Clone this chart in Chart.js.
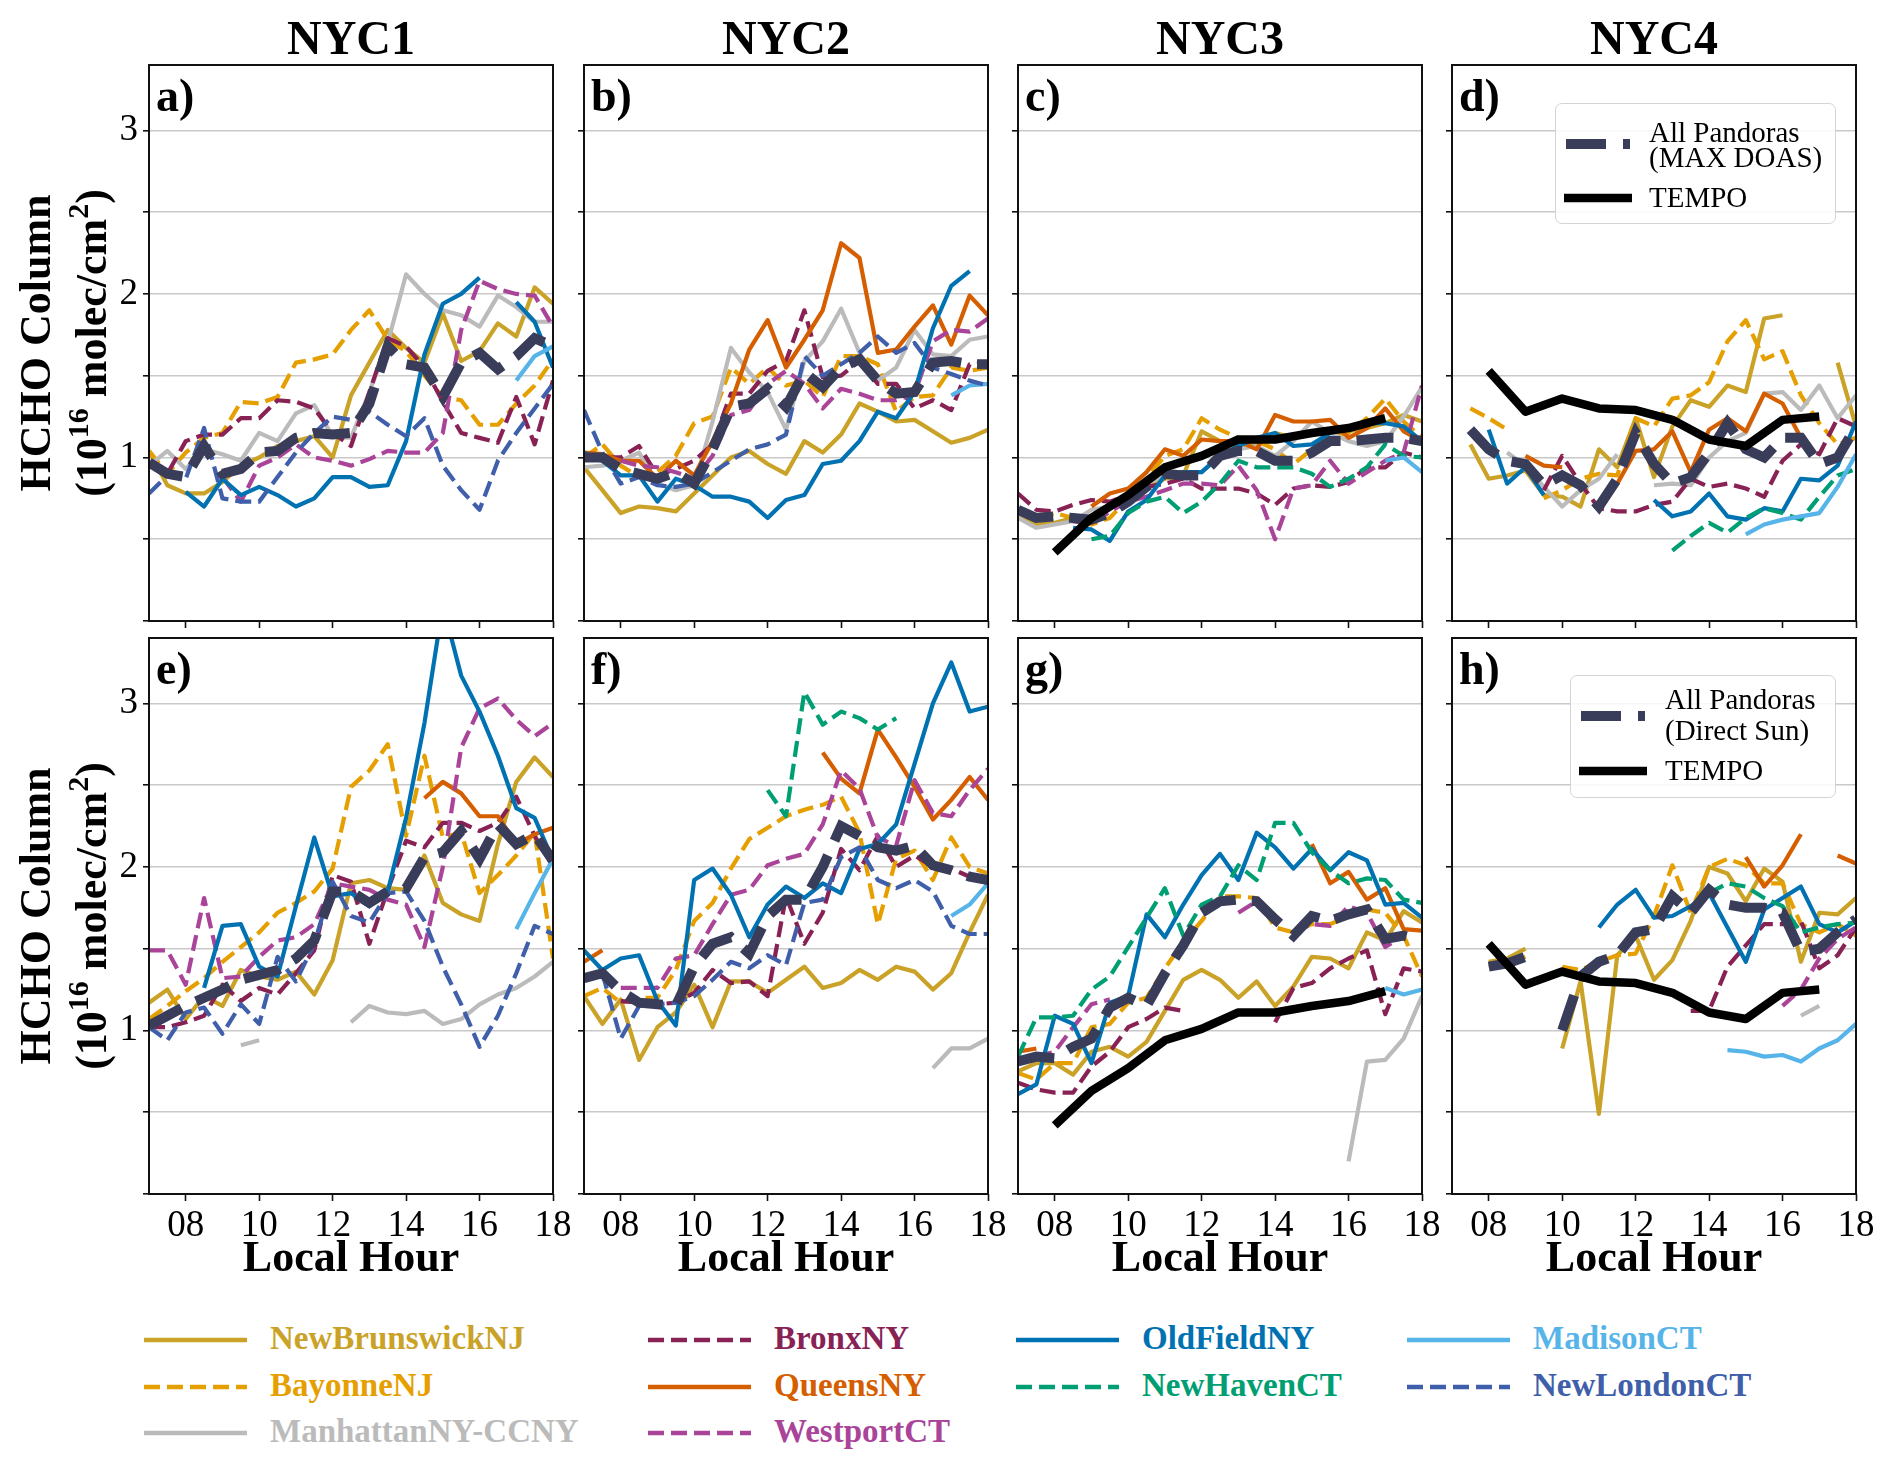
<!DOCTYPE html>
<html><head><meta charset="utf-8">
<script src="https://cdn.jsdelivr.net/npm/chart.js@4.4.1/dist/chart.umd.min.js"></script>
<style>
html,body{margin:0;padding:0;background:#fff;}
#root{position:relative;width:1892px;height:1466px;overflow:hidden;font-family:'Liberation Serif','Times New Roman',serif;color:#000;}
#root canvas{position:absolute;}
.coltitle{position:absolute;font-weight:bold;font-size:48px;line-height:48px;text-align:center;width:402px;}
.ylab{position:absolute;width:420px;height:112px;font-weight:bold;font-size:44px;line-height:56px;text-align:center;white-space:nowrap;transform:rotate(-90deg);}
.ylab sup{font-size:30px;line-height:0;position:relative;top:-2px;vertical-align:super;}
.xlab{position:absolute;width:402px;text-align:center;font-weight:bold;font-size:44px;line-height:44px;}
.plabel{position:absolute;font-weight:bold;font-size:46px;line-height:46px;}
.ileg{position:absolute;border:1.5px solid #d4d4d4;border-radius:7px;background:rgba(255,255,255,0.85);box-sizing:border-box;}
.ileg div{position:absolute;font-size:29px;line-height:29px;white-space:nowrap;}
.ileg svg{position:absolute;}
.bleg{position:absolute;font-weight:bold;font-size:33px;line-height:33px;white-space:nowrap;}
.blegs{position:absolute;}
</style>
</head><body>
<div id="root"></div>
<script>
// ---------- categories ----------
const HOURS = [7,7.5,8,8.5,9,9.5,10,10.5,11,11.5,12,12.5,13,13.5,14,14.5,15,15.5,16,16.5,17,17.5,18];
const TEMPO_HOURS = [8,9,10,11,12,13,14,15,16,17];
const X_TICKS = [8,10,12,14,16,18];
const Y_TICKS = [0,0.5,1,1.5,2,2.5,3];
const Y_LABELED = [1,2,3];
const COLUMN_TITLES = ['NYC1','NYC2','NYC3','NYC4'];
const PANEL_LETTERS = ['a)','b)','c)','d)','e)','f)','g)','h)'];
const SITES = ['NewBrunswickNJ','BayonneNJ','ManhattanNY-CCNY','BronxNY','QueensNY','WestportCT','OldFieldNY','NewHavenCT','MadisonCT','NewLondonCT'];
const _ = null;

// ---------- TEMPO ----------
const TEMPO_NYC3 = [0.42,0.63,0.77,0.94,1.01,1.11,1.11,1.15,1.18,1.24];
const TEMPO_NYC4 = [1.53,1.28,1.36,1.30,1.29,1.23,1.11,1.07,1.23,1.25];

// ---------- panel a (NYC1, MAX-DOAS) ----------
const a_All = [0.97,0.90,0.88,1.07,0.90,0.93,1.03,1.04,1.12,1.15,1.14,1.15,1.33,1.68,1.57,1.55,1.37,1.58,1.64,1.54,1.62,1.73,1.68];
const a_NewBrunswickNJ = [1.04,0.83,0.78,0.78,0.85,0.95,1.00,1.07,1.10,1.13,1.00,1.38,1.58,1.78,1.67,1.58,1.88,1.59,1.65,1.82,1.74,2.04,1.94];
const a_BayonneNJ = [1.04,0.90,1.03,1.12,1.15,1.34,1.33,1.37,1.58,1.60,1.63,1.78,1.90,1.72,1.65,1.50,1.37,1.35,1.20,1.20,1.33,1.44,1.60];
const a_ManhattanNY = [0.95,1.04,0.93,1.05,1.02,0.98,1.15,1.10,1.27,1.32,1.13,1.12,1.40,1.70,2.12,2.00,1.90,1.87,1.80,1.99,1.92,1.83,1.83];
const a_BronxNY = [0.95,0.90,1.10,1.14,1.14,1.24,1.24,1.35,1.34,1.30,1.15,1.07,1.40,1.73,1.68,1.55,1.34,1.15,1.12,1.09,1.37,1.08,1.47];
const a_WestportCT = [_,_,_,_,0.88,0.73,0.95,1.00,1.08,1.00,0.98,0.95,0.99,1.04,1.03,1.03,1.15,1.78,2.08,2.03,2.00,1.99,1.80];
const a_OldFieldNY = [_,_,0.79,0.70,0.87,0.77,0.82,0.77,0.70,0.75,0.88,0.88,0.82,0.83,1.10,1.63,1.94,2.00,2.10,_,1.95,1.83,1.55];
const a_MadisonCT = [_,_,_,_,_,_,_,_,_,_,_,_,_,_,_,_,_,_,_,_,1.47,1.62,1.68];
const a_NewLondonCT = [0.78,0.89,0.87,1.18,0.75,0.73,0.73,0.88,1.03,1.15,1.25,1.23,1.28,1.20,1.13,1.24,0.95,0.80,0.68,0.98,1.15,1.30,1.45];

// ---------- panel b (NYC2, MAX-DOAS) ----------
const b_All = [1.00,1.00,0.93,0.90,0.87,0.91,0.84,1.05,1.31,1.33,1.42,1.31,1.52,1.43,1.55,1.60,1.47,1.39,1.40,1.58,1.59,1.57,1.57];
const b_NewBrunswickNJ = [0.94,0.80,0.66,0.70,0.69,0.67,0.78,0.89,1.00,1.04,0.96,0.90,1.10,1.03,1.14,1.33,1.28,1.22,1.23,1.16,1.09,1.12,1.17];
const b_BayonneNJ = [1.00,1.08,0.95,0.88,0.91,1.01,1.21,1.25,1.55,1.45,1.55,1.44,1.47,1.37,1.62,1.62,1.57,1.28,1.37,1.38,1.55,1.53,1.55];
const b_ManhattanNY = [0.94,0.95,0.98,1.03,0.84,0.80,0.83,1.22,1.67,1.52,1.40,1.17,1.59,1.71,1.91,1.64,1.47,1.55,1.78,1.63,1.62,1.72,1.74];
const b_BronxNY = [1.00,1.00,1.00,1.07,0.89,0.93,0.98,1.08,1.39,1.39,1.53,1.59,1.90,1.49,1.50,1.59,1.45,1.45,1.30,1.35,1.29,1.57,1.58];
const b_QueensNY = [1.03,1.02,0.98,0.98,0.87,0.98,0.89,1.10,1.33,1.66,1.84,1.55,1.72,1.90,2.31,2.22,1.64,1.66,1.80,1.93,1.69,1.99,1.87];
const b_WestportCT = [_,_,0.98,0.95,0.94,0.91,0.87,1.01,1.26,1.29,1.45,1.53,1.45,1.30,1.42,1.39,1.35,1.35,1.39,1.71,1.78,1.77,1.85];
const b_OldFieldNY = [1.03,0.98,0.89,0.89,0.73,0.87,0.83,0.76,0.76,0.73,0.63,0.74,0.77,0.96,0.98,1.10,1.28,1.24,1.40,1.79,2.05,2.14,_];
const b_MadisonCT = [_,_,_,_,_,_,_,_,_,_,_,_,_,_,_,_,_,_,_,_,1.38,1.44,1.45];
const b_NewLondonCT = [1.29,1.03,0.84,0.88,0.83,0.82,0.84,0.91,0.98,1.05,1.08,1.14,1.62,1.50,1.57,1.64,1.74,1.64,1.70,1.55,1.51,1.47,1.44];

// ---------- panel c (NYC3, MAX-DOAS) ----------
const c_All = [0.68,0.63,0.64,0.63,0.62,0.66,0.73,0.82,0.90,0.89,0.89,1.01,1.04,1.04,0.98,0.98,1.03,1.10,1.10,1.11,1.12,1.12,1.10];
const c_NewBrunswickNJ = [0.66,0.59,0.60,0.63,0.61,0.69,0.75,0.81,0.87,0.89,1.16,1.10,1.07,1.08,1.15,1.12,1.16,1.15,1.16,1.18,1.21,1.26,1.22];
const c_BayonneNJ = [0.68,0.62,0.66,0.63,0.59,0.63,0.75,0.87,1.01,1.05,1.24,1.17,1.12,1.10,1.05,0.96,1.05,1.12,1.15,1.24,1.36,1.22,1.12];
const c_ManhattanNY = [0.63,0.57,0.59,0.61,0.68,0.70,0.75,0.84,0.89,0.91,0.91,1.01,1.05,1.07,1.01,1.10,1.22,1.15,1.10,1.07,1.10,1.25,1.43];
const c_BronxNY = [0.78,0.68,0.67,0.71,0.74,0.73,0.77,0.82,0.84,0.87,0.81,0.81,0.81,0.78,0.71,0.81,0.83,0.82,0.85,0.94,0.94,1.03,1.00];
const c_QueensNY = [_,_,_,_,0.70,0.78,0.81,0.91,1.05,1.01,1.11,1.10,1.10,1.05,1.26,1.22,1.22,1.23,1.12,1.18,1.30,1.16,1.10];
const c_WestportCT = [_,_,_,0.61,0.59,0.67,0.73,0.76,0.80,0.84,0.84,0.83,0.95,0.80,0.50,0.81,0.83,0.98,0.84,0.91,0.98,1.03,1.44];
const c_OldFieldNY = [_,_,_,0.57,0.56,0.49,0.67,0.74,0.89,0.91,0.91,1.01,1.07,1.12,1.15,1.07,1.08,1.15,1.18,1.21,1.21,1.19,1.10];
const c_NewHavenCT = [_,_,_,_,0.50,0.52,0.66,0.73,0.76,0.66,0.73,0.84,0.98,0.94,0.94,0.94,0.90,0.82,0.87,0.94,1.08,1.01,1.00];
const c_MadisonCT = [_,_,_,_,_,_,_,_,_,_,_,_,_,_,_,_,_,_,_,_,0.98,1.00,0.91];

// ---------- panel d (NYC4, MAX-DOAS) ----------
const d_All = [_,1.17,1.05,0.98,0.96,0.83,0.89,0.83,0.70,0.87,1.15,0.96,0.84,0.88,1.03,1.21,1.05,1.00,1.12,1.12,0.96,1.00,1.19];
const d_NewBrunswickNJ = [_,1.08,0.87,0.89,0.92,0.77,0.76,0.70,1.05,0.94,1.24,0.88,1.19,1.35,1.31,1.44,1.40,1.85,1.87,_,_,1.58,1.19];
const d_BayonneNJ = [_,1.30,1.24,1.17,_,0.75,0.80,0.87,0.90,0.89,1.24,1.19,1.36,1.38,1.46,1.71,1.84,1.60,1.65,1.38,1.21,1.08,1.12];
const d_ManhattanNY = [_,_,_,1.03,0.95,0.82,0.70,0.80,0.87,1.02,_,0.83,0.84,0.83,1.00,1.10,1.15,1.39,1.40,1.29,1.44,1.24,1.38];
const d_BronxNY = [_,_,_,_,_,0.80,1.01,0.84,0.69,0.67,0.67,0.71,0.73,0.87,0.82,0.84,0.81,0.76,0.98,1.08,1.02,1.24,1.19];
const d_QueensNY = [_,_,_,_,1.01,0.95,0.94,_,0.67,0.84,1.04,1.05,1.16,0.91,1.17,1.24,1.16,1.39,1.33,1.12,_,_,_];
const d_OldFieldNY = [_,_,1.17,0.84,0.94,0.77,_,_,_,_,_,0.74,0.64,0.67,0.78,0.64,0.62,0.69,0.67,0.87,0.86,0.95,1.22];
const d_NewHavenCT = [_,_,_,_,_,_,_,_,_,_,_,_,0.43,0.52,0.60,0.54,0.63,0.69,0.66,0.62,0.76,0.89,0.93];
const d_MadisonCT = [_,_,_,_,_,_,_,_,_,_,_,_,_,_,_,_,0.53,0.59,0.62,0.64,0.66,0.82,1.02];

// ---------- panel e (NYC1, Direct Sun) ----------
const e_All = [1.03,1.09,1.15,1.20,1.25,1.31,1.34,1.37,1.44,1.55,1.85,1.85,1.78,1.85,1.87,2.06,2.09,2.22,2.05,2.26,2.14,2.20,2.04];
const e_NewBrunswickNJ = [1.17,1.25,1.07,1.21,1.15,1.37,1.33,1.31,1.36,1.22,1.43,1.90,1.92,1.87,1.86,2.07,1.78,1.71,1.67,2.14,2.52,2.67,2.55];
const e_BayonneNJ = [1.07,1.15,1.24,1.32,1.42,1.51,1.60,1.72,1.78,1.85,1.99,2.49,2.59,2.75,2.19,2.68,2.18,2.21,1.84,1.95,2.07,2.21,1.44];
const e_ManhattanNY = [_,_,_,_,_,0.91,0.94,_,_,_,_,1.05,1.15,1.11,1.10,1.12,1.04,1.07,1.16,1.22,1.26,1.33,1.42];
const e_BronxNY = [1.02,1.02,1.05,1.09,1.28,1.18,1.26,1.22,1.35,1.49,1.95,1.91,1.53,1.86,2.16,2.12,2.27,2.27,2.22,2.27,2.43,2.19,2.00];
const e_QueensNY = [_,_,_,_,_,_,_,_,_,_,_,_,_,_,_,2.42,2.52,2.45,2.31,2.31,2.14,2.20,2.24];
const e_WestportCT = [1.49,1.49,1.28,1.81,1.32,1.33,1.45,1.55,1.57,1.65,1.90,1.88,1.86,1.80,1.77,1.51,2.00,2.73,2.97,3.03,2.90,2.80,2.88];
const e_OldFieldNY = [_,_,_,1.26,1.64,1.65,1.39,1.33,1.76,2.18,1.82,1.84,1.76,1.85,2.30,2.88,3.60,3.17,2.95,2.68,2.36,2.30,2.04];
const e_MadisonCT = [_,_,_,_,_,_,_,_,_,_,_,_,_,_,_,_,_,_,_,_,1.62,1.84,2.05];
const e_NewLondonCT = [1.02,0.94,1.11,1.14,0.98,1.16,1.04,1.45,1.30,1.53,1.91,1.70,1.66,1.84,1.85,1.67,1.39,1.16,0.90,1.09,1.35,1.64,1.59];

// ---------- panel f (NYC2, Direct Sun) ----------
const f_All = [1.32,1.35,1.24,1.17,1.16,1.15,1.39,1.53,1.57,1.47,1.70,1.80,1.80,2.00,2.25,2.19,2.12,2.10,2.13,2.01,1.98,1.94,1.92];
const f_NewBrunswickNJ = [1.21,1.04,1.19,0.82,1.02,1.11,1.28,1.02,1.30,1.30,1.23,1.31,1.39,1.26,1.29,1.37,1.31,1.39,1.36,1.25,1.35,1.60,1.83];
const f_BayonneNJ = [1.21,1.26,1.17,1.20,1.20,1.37,1.67,1.78,1.99,2.17,2.24,2.31,2.35,2.38,2.43,2.21,1.65,2.05,2.10,1.92,2.18,2.00,1.96];
const f_ManhattanNY = [_,_,_,_,_,_,_,_,_,_,_,_,_,_,_,_,_,_,_,0.77,0.89,0.89,0.95];
const f_BronxNY = [_,_,1.18,1.17,1.16,1.17,1.23,1.37,1.29,1.30,1.21,1.82,1.53,1.72,2.11,1.98,2.19,2.00,2.07,2.00,1.99,1.94,1.92];
const f_QueensNY = [1.42,1.49,_,_,_,_,_,_,_,_,_,_,_,2.70,2.54,2.45,2.84,2.67,2.49,2.29,2.41,2.55,2.41];
const f_WestportCT = [_,_,1.26,1.26,1.26,1.44,1.46,1.65,1.83,1.86,2.01,2.05,2.08,2.26,2.59,2.48,2.18,2.13,2.53,2.33,2.31,2.47,2.60];
const f_OldFieldNY = [1.49,1.37,1.44,1.46,1.18,1.03,1.92,1.99,1.83,1.57,1.77,1.88,1.81,1.90,1.84,2.11,2.14,2.26,2.63,3.00,3.25,2.95,2.98];
const f_NewHavenCT = [_,_,_,_,_,_,_,_,_,_,2.47,2.31,3.07,2.87,2.95,2.91,2.84,2.91,_,_,_,_,_];
const f_MadisonCT = [_,_,_,_,_,_,_,_,_,_,_,_,_,_,_,_,_,_,_,_,1.70,1.77,1.90];
const f_NewLondonCT = [_,1.35,0.95,1.15,1.16,1.17,1.21,1.31,1.42,1.38,1.46,1.40,1.78,1.80,2.06,2.12,1.92,1.87,1.92,1.85,1.64,1.59,1.59];

// ---------- panel g (NYC3, Direct Sun) ----------
const g_All = [0.81,0.84,0.83,0.90,0.95,1.14,1.20,1.15,1.35,1.52,1.72,1.79,1.80,1.79,1.68,1.58,1.70,1.67,1.71,1.74,1.56,1.58,1.55];
const g_NewBrunswickNJ = [0.75,0.80,0.80,0.73,0.87,0.90,0.84,0.93,1.12,1.31,1.37,1.31,1.20,1.30,1.15,1.27,1.45,1.44,1.38,1.60,1.55,1.73,1.66];
const g_BayonneNJ = [0.74,0.70,0.80,0.80,1.02,1.04,1.17,1.20,1.38,1.54,1.67,1.82,1.82,1.81,1.63,1.60,1.65,1.65,1.70,1.74,1.72,1.58,1.33];
const g_ManhattanNY = [_,_,_,_,_,_,_,_,_,_,_,_,_,_,_,_,_,_,0.20,0.81,0.82,0.95,1.21];
const g_BronxNY = [0.68,0.64,0.62,0.62,0.78,0.87,1.02,1.07,1.14,1.12,_,_,_,_,1.05,1.26,1.29,1.38,1.44,1.49,1.10,1.38,1.36];
const g_QueensNY = [0.87,0.89,_,_,_,_,_,_,_,_,_,_,_,_,_,_,2.14,1.90,1.97,1.80,1.87,1.62,1.61];
const g_WestportCT = [_,0.84,0.87,1.02,1.16,1.19,_,_,_,_,_,_,1.72,1.79,_,1.60,1.65,1.64,1.76,1.72,1.51,1.58,_];
const g_OldFieldNY = [0.61,0.67,1.09,1.04,0.80,1.17,1.21,1.71,1.57,1.77,1.95,2.08,1.92,2.21,2.12,1.99,2.11,1.98,2.09,2.04,1.77,1.78,1.69];
const g_NewHavenCT = [0.84,1.08,1.08,1.09,1.25,1.33,1.51,1.69,1.87,1.58,1.77,1.82,2.01,1.92,2.27,2.27,2.09,1.98,1.90,1.93,1.92,1.80,1.78];
const g_MadisonCT = [_,_,_,_,_,_,_,_,_,_,_,_,_,_,_,_,_,_,_,_,1.26,1.22,1.25];

// ---------- panel h (NYC4, Direct Sun) ----------
const h_All = [_,_,1.39,1.41,1.45,_,1.00,1.33,1.42,1.46,1.60,1.62,1.82,1.72,1.86,1.77,1.75,1.75,1.72,1.48,1.50,1.60,1.68];
const h_NewBrunswickNJ = [_,_,1.42,1.44,1.50,_,0.89,1.30,0.49,1.46,1.58,1.31,1.43,1.67,2.00,1.96,1.79,1.99,1.91,1.42,1.72,1.71,1.81];
const h_BayonneNJ = [_,_,1.39,1.41,1.45,_,1.39,1.37,1.42,1.46,1.47,1.70,2.01,1.72,2.00,2.05,2.01,1.90,1.90,1.65,1.60,1.65,1.58];
const h_BronxNY = [_,_,_,_,_,_,_,_,_,_,_,_,_,1.12,1.12,1.39,1.52,1.65,1.65,1.67,1.38,1.46,1.63];
const h_QueensNY = [_,_,_,_,_,_,_,_,_,_,_,_,_,_,_,_,2.06,1.88,2.01,2.20,_,2.07,2.02];
const h_WestportCT = [_,_,_,_,_,_,_,_,_,_,_,_,_,_,_,_,_,_,1.15,1.25,1.44,1.56,1.63];
const h_ManhattanNY = [_,_,_,_,_,_,_,_,_,_,_,_,_,_,_,_,_,_,_,1.09,1.15,_,1.23];
const h_OldFieldNY = [_,_,_,_,_,_,_,_,1.63,1.77,1.86,1.69,1.70,1.76,1.84,1.63,1.42,1.74,1.81,1.88,1.65,1.60,1.67];
const h_NewHavenCT = [_,_,_,_,_,_,_,_,_,_,_,_,_,_,1.84,1.90,1.88,1.81,1.76,1.60,1.63,1.65,1.66];
const h_MadisonCT = [_,_,_,_,_,_,_,_,_,_,_,_,_,_,_,0.88,0.87,0.84,0.85,0.81,0.89,0.94,1.04];

// ---------- styles ----------
const SITE_STYLE = {
  'NewBrunswickNJ':   {color:'#C9A227', dashed:false},
  'BayonneNJ':        {color:'#E69F00', dashed:true},
  'ManhattanNY-CCNY': {color:'#BBBBBB', dashed:false},
  'BronxNY':          {color:'#882255', dashed:true},
  'QueensNY':         {color:'#D55E00', dashed:false},
  'WestportCT':       {color:'#AA4499', dashed:true},
  'OldFieldNY':       {color:'#0072B2', dashed:false},
  'NewHavenCT':       {color:'#009E73', dashed:true},
  'MadisonCT':        {color:'#56B4E9', dashed:false},
  'NewLondonCT':      {color:'#3F5FAA', dashed:true}
};
const ALL_COLOR = '#393D5A';

const PANELS = [
  {row:0,col:0,all:a_All,tempo:null,sites:{'NewBrunswickNJ':a_NewBrunswickNJ,'BayonneNJ':a_BayonneNJ,'ManhattanNY-CCNY':a_ManhattanNY,'BronxNY':a_BronxNY,'WestportCT':a_WestportCT,'OldFieldNY':a_OldFieldNY,'MadisonCT':a_MadisonCT,'NewLondonCT':a_NewLondonCT}},
  {row:0,col:1,all:b_All,tempo:null,sites:{'NewBrunswickNJ':b_NewBrunswickNJ,'BayonneNJ':b_BayonneNJ,'ManhattanNY-CCNY':b_ManhattanNY,'BronxNY':b_BronxNY,'QueensNY':b_QueensNY,'WestportCT':b_WestportCT,'OldFieldNY':b_OldFieldNY,'MadisonCT':b_MadisonCT,'NewLondonCT':b_NewLondonCT}},
  {row:0,col:2,all:c_All,tempo:TEMPO_NYC3,sites:{'NewBrunswickNJ':c_NewBrunswickNJ,'BayonneNJ':c_BayonneNJ,'ManhattanNY-CCNY':c_ManhattanNY,'BronxNY':c_BronxNY,'QueensNY':c_QueensNY,'WestportCT':c_WestportCT,'OldFieldNY':c_OldFieldNY,'NewHavenCT':c_NewHavenCT,'MadisonCT':c_MadisonCT}},
  {row:0,col:3,all:d_All,tempo:TEMPO_NYC4,sites:{'NewBrunswickNJ':d_NewBrunswickNJ,'BayonneNJ':d_BayonneNJ,'ManhattanNY-CCNY':d_ManhattanNY,'BronxNY':d_BronxNY,'QueensNY':d_QueensNY,'OldFieldNY':d_OldFieldNY,'NewHavenCT':d_NewHavenCT,'MadisonCT':d_MadisonCT}},
  {row:1,col:0,all:e_All,tempo:null,sites:{'NewBrunswickNJ':e_NewBrunswickNJ,'BayonneNJ':e_BayonneNJ,'ManhattanNY-CCNY':e_ManhattanNY,'BronxNY':e_BronxNY,'QueensNY':e_QueensNY,'WestportCT':e_WestportCT,'OldFieldNY':e_OldFieldNY,'MadisonCT':e_MadisonCT,'NewLondonCT':e_NewLondonCT}},
  {row:1,col:1,all:f_All,tempo:null,sites:{'NewBrunswickNJ':f_NewBrunswickNJ,'BayonneNJ':f_BayonneNJ,'ManhattanNY-CCNY':f_ManhattanNY,'BronxNY':f_BronxNY,'QueensNY':f_QueensNY,'WestportCT':f_WestportCT,'OldFieldNY':f_OldFieldNY,'NewHavenCT':f_NewHavenCT,'MadisonCT':f_MadisonCT,'NewLondonCT':f_NewLondonCT}},
  {row:1,col:2,all:g_All,tempo:TEMPO_NYC3,sites:{'NewBrunswickNJ':g_NewBrunswickNJ,'BayonneNJ':g_BayonneNJ,'ManhattanNY-CCNY':g_ManhattanNY,'BronxNY':g_BronxNY,'QueensNY':g_QueensNY,'WestportCT':g_WestportCT,'OldFieldNY':g_OldFieldNY,'NewHavenCT':g_NewHavenCT,'MadisonCT':g_MadisonCT}},
  {row:1,col:3,all:h_All,tempo:TEMPO_NYC4,sites:{'NewBrunswickNJ':h_NewBrunswickNJ,'BayonneNJ':h_BayonneNJ,'ManhattanNY-CCNY':h_ManhattanNY,'BronxNY':h_BronxNY,'QueensNY':h_QueensNY,'WestportCT':h_WestportCT,'OldFieldNY':h_OldFieldNY,'NewHavenCT':h_NewHavenCT,'MadisonCT':h_MadisonCT}}
];

// ---------- layout ----------
const PW = 404, PH = 556;
const COL_LEFT = [149, 584, 1018, 1452];
const ROW_TOP = [65, 638];
const ML = 60, MT = 12, MR = 30, MB = 60;
const FONT = "'Liberation Serif','Times New Roman',serif";

Chart.defaults.font.family = FONT;
Chart.defaults.color = '#000';
Chart.defaults.animation = false;

const root = document.getElementById('root');

const framePlugin = {
  id: 'frame',
  afterDraw(chart) {
    const a = chart.chartArea, ctx = chart.ctx;
    ctx.save();
    ctx.strokeStyle = '#111';
    ctx.lineWidth = 2;
    ctx.strokeRect(a.left, a.top, a.right - a.left, a.bottom - a.top);
    ctx.restore();
  }
};

function pts(xs, ys) { return xs.map((x, i) => ({x: x, y: ys[i]})); }

PANELS.forEach((p, idx) => {
  const cv = document.createElement('canvas');
  const W = PW + ML + MR, H = PH + MT + MB;
  cv.width = W; cv.height = H;
  cv.style.width = W + 'px'; cv.style.height = H + 'px';
  cv.style.left = (COL_LEFT[p.col] - ML) + 'px';
  cv.style.top = (ROW_TOP[p.row] - MT) + 'px';
  root.appendChild(cv);

  const datasets = [];
  if (p.tempo) {
    datasets.push({label:'TEMPO', data:pts(TEMPO_HOURS, p.tempo), borderColor:'#000', borderWidth:8.5,
      pointRadius:0, tension:0, fill:false, order:-2, borderCapStyle:'butt', borderJoinStyle:'round'});
  }
  datasets.push({label:'All Pandoras', data:pts(HOURS, p.all), borderColor:ALL_COLOR, borderWidth:10,
    borderDash:[37,16], pointRadius:0, tension:0, fill:false, order:-1, spanGaps:false, borderCapStyle:'butt'});
  SITES.forEach((s, si) => {
    if (!p.sites[s]) return;
    const st = SITE_STYLE[s];
    datasets.push({label:s, data:pts(HOURS, p.sites[s]), borderColor:st.color, borderWidth:4.2,
      borderDash: st.dashed ? [16,7] : [], pointRadius:0, tension:0, fill:false,
      order: 20 - si, spanGaps:false, borderCapStyle:'butt', borderJoinStyle:'round'});
  });

  new Chart(cv, {
    type: 'line',
    data: {datasets: datasets},
    plugins: [framePlugin],
    options: {
      responsive: false,
      devicePixelRatio: 1,
      animation: false,
      spanGaps: false,
      layout: {padding: {top: MT, right: MR, left: 0, bottom: 0}},
      plugins: {legend: {display: false}, tooltip: {enabled: false}, title: {display: false}},
      scales: {
        x: {
          type: 'linear', min: 7, max: 18,
          afterBuildTicks: (sc) => { sc.ticks = X_TICKS.map(v => ({value: v})); },
          afterFit: (sc) => { sc.height = MB; sc.paddingLeft = 0; sc.paddingRight = 0; sc.paddingTop = 0; sc.paddingBottom = 0; },
          grid: {drawOnChartArea: false, drawTicks: true, tickLength: 7, tickColor: '#111', tickWidth: 1.6},
          border: {display: false},
          ticks: {
            font: {size: 37, family: FONT}, color: '#000', padding: 3, maxRotation: 0, autoSkip: false,
            callback: (v) => p.row === 1 ? (v < 10 ? '0' + v : '' + v) : ''
          }
        },
        y: {
          type: 'linear', min: 0, max: 3.4,
          afterBuildTicks: (sc) => { sc.ticks = Y_TICKS.map(v => ({value: v})); },
          afterFit: (sc) => { sc.width = ML; sc.paddingTop = 0; sc.paddingBottom = 0; sc.paddingLeft = 0; sc.paddingRight = 0; },
          grid: {color: '#c9c9c9', lineWidth: 1.6, drawTicks: true, tickLength: 6, tickColor: '#111', tickWidth: 1.6},
          border: {display: false},
          ticks: {
            font: {size: 37, family: FONT}, color: '#000', padding: 5, autoSkip: false,
            callback: (v) => (p.col === 0 && Y_LABELED.includes(v)) ? String(v) : ''
          }
        }
      }
    }
  });

  // panel letter
  const pl = document.createElement('div');
  pl.className = 'plabel';
  pl.textContent = PANEL_LETTERS[idx];
  pl.style.left = (COL_LEFT[p.col] + 7) + 'px';
  pl.style.top = (ROW_TOP[p.row] + 8) + 'px';
  root.appendChild(pl);
});

// column titles
COLUMN_TITLES.forEach((t, c) => {
  const d = document.createElement('div');
  d.className = 'coltitle';
  d.textContent = t;
  d.style.left = COL_LEFT[c] + 'px';
  d.style.width = PW + 'px';
  d.style.top = '14px';
  root.appendChild(d);
});

// y-axis titles
ROW_TOP.forEach((top) => {
  const d = document.createElement('div');
  d.className = 'ylab';
  d.innerHTML = 'HCHO Column<br>(10<sup>16</sup> molec/cm<sup>2</sup>)';
  const cy = top + PH / 2;
  d.style.left = (64 - 210) + 'px';
  d.style.top = (cy - 56) + 'px';
  root.appendChild(d);
});

// x-axis titles
COL_LEFT.forEach((l) => {
  const d = document.createElement('div');
  d.className = 'xlab';
  d.textContent = 'Local Hour';
  d.style.left = l + 'px';
  d.style.width = PW + 'px';
  d.style.top = '1235px';
  root.appendChild(d);
});

// inner legends (panels d and h)
function svgLine(w, h, color, width, dash) {
  return '<svg width="' + w + '" height="' + h + '"><line x1="0" y1="' + (h/2) + '" x2="' + w + '" y2="' + (h/2) +
    '" stroke="' + color + '" stroke-width="' + width + '"' + (dash ? ' stroke-dasharray="' + dash + '"' : '') + '/></svg>';
}
function innerLegend(panelLeft, panelTop, cfg) {
  const box = document.createElement('div');
  box.className = 'ileg';
  box.style.left = (panelLeft + cfg.left) + 'px';
  box.style.top = (panelTop + cfg.top) + 'px';
  box.style.width = cfg.w + 'px';
  box.style.height = cfg.h + 'px';
  let html = '';
  html += '<svg style="left:10px;top:' + (cfg.dashY - 7) + 'px" width="64" height="14"><line x1="0" y1="7" x2="64" y2="7" stroke="' + ALL_COLOR + '" stroke-width="10" stroke-dasharray="40 17"/></svg>';
  html += '<svg style="left:8px;top:' + (cfg.tempoY - 7) + 'px" width="68" height="14"><line x1="0" y1="7" x2="68" y2="7" stroke="#000" stroke-width="8.5"/></svg>';
  html += '<div style="left:' + cfg.textX + 'px;top:' + (cfg.l1 - 15) + 'px">All Pandoras</div>';
  html += '<div style="left:' + cfg.textX + 'px;top:' + (cfg.l2 - 15) + 'px">' + cfg.sub + '</div>';
  html += '<div style="left:' + cfg.textX + 'px;top:' + (cfg.tempoY - 15) + 'px">TEMPO</div>';
  box.innerHTML = html;
  root.appendChild(box);
}
innerLegend(COL_LEFT[3], ROW_TOP[0], {left:103, top:38, w:281, h:121, dashY:40, tempoY:94, l1:29, l2:54, textX:93, sub:'(MAX DOAS)'});
innerLegend(COL_LEFT[3], ROW_TOP[1], {left:118, top:37, w:266, h:123, dashY:40, tempoY:95, l1:24, l2:55, textX:94, sub:'(Direct Sun)'});

// bottom legend
const LEG_COLS_X = [144, 648, 1016, 1407];
const LEG_ROWS_Y = [1340, 1387, 1433];
const LEG_LAYOUT = [
  ['NewBrunswickNJ','BayonneNJ','ManhattanNY-CCNY'],
  ['BronxNY','QueensNY','WestportCT'],
  ['OldFieldNY','NewHavenCT'],
  ['MadisonCT','NewLondonCT']
];
LEG_LAYOUT.forEach((col, ci) => {
  col.forEach((s, ri) => {
    const st = SITE_STYLE[s];
    const y = LEG_ROWS_Y[ri];
    const sv = document.createElement('div');
    sv.className = 'blegs';
    sv.style.left = LEG_COLS_X[ci] + 'px';
    sv.style.top = (y - 7) + 'px';
    sv.innerHTML = svgLine(103, 14, st.color, 4.5, st.dashed ? '16 7' : null);
    root.appendChild(sv);
    const t = document.createElement('div');
    t.className = 'bleg';
    t.style.left = (LEG_COLS_X[ci] + 126) + 'px';
    t.style.top = (y - 18) + 'px';
    t.style.color = st.color;
    t.textContent = s;
    root.appendChild(t);
  });
});
</script>
</body></html>
